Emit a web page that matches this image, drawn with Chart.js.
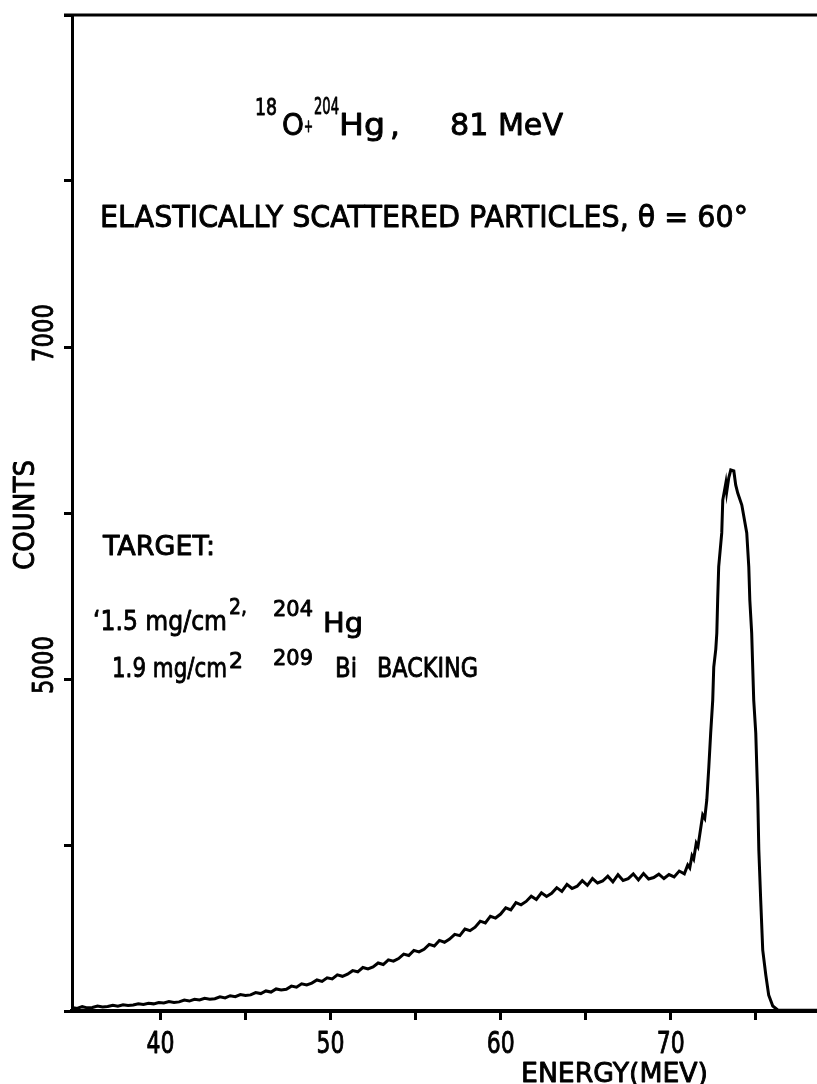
<!DOCTYPE html>
<html>
<head>
<meta charset="utf-8">
<title>18O + 204Hg elastic scattering spectrum</title>
<script src="https://cdn.jsdelivr.net/npm/chart.js@4.4.1/dist/chart.umd.min.js"></script>
<style>
  html, body { margin: 0; padding: 0; background: #fff; }
  #wrap { width: 817px; height: 1084px; }
</style>
</head>
<body>
<div id="wrap"><canvas id="spectrum" width="817" height="1084"></canvas></div>
<script>
// spectrum: energy (MeV) and counts per channel
const energy = [
  34.8, 35.1, 35.4, 35.7, 36.0, 36.3, 36.6, 36.9, 37.2, 37.5, 37.8, 38.1, 38.4, 38.7, 39.0, 39.3,
  39.6, 39.9, 40.2, 40.5, 40.8, 41.1, 41.4, 41.7, 42.0, 42.3, 42.6, 42.9, 43.2, 43.5, 43.8, 44.1,
  44.4, 44.7, 45.0, 45.3, 45.6, 45.9, 46.2, 46.5, 46.8, 47.1, 47.4, 47.7, 48.0, 48.3, 48.6, 48.9,
  49.2, 49.5, 49.8, 50.1, 50.4, 50.7, 51.0, 51.3, 51.6, 51.9, 52.2, 52.5, 52.8, 53.1, 53.4, 53.7,
  54.0, 54.3, 54.6, 54.9, 55.2, 55.5, 55.8, 56.1, 56.4, 56.7, 57.0, 57.3, 57.6, 57.9, 58.2, 58.5,
  58.8, 59.1, 59.4, 59.7, 60.0, 60.3, 60.6, 60.9, 61.2, 61.5, 61.8, 62.1, 62.4, 62.7, 63.0, 63.3,
  63.6, 63.9, 64.2, 64.5, 64.8, 65.1, 65.4, 65.7, 66.0, 66.3, 66.6, 66.9, 67.2, 67.5, 67.8, 68.1,
  68.4, 68.7, 69.0, 69.3, 69.6, 69.9, 70.2, 70.5, 70.8,
  71.0, 71.12, 71.25, 71.35, 71.5, 71.6, 71.71, 71.88, 72.0, 72.12, 72.24, 72.35, 72.47, 72.53,
  72.65, 72.71, 72.76, 72.82, 73.0, 73.06, 73.24, 73.29, 73.41, 73.53, 73.71, 73.82, 73.94, 74.18,
  74.47, 74.59, 74.65, 74.76, 74.82, 74.88, 75.0, 75.06, 75.12, 75.18, 75.29, 75.41, 75.59, 75.76,
  76.0, 76.29, 78.6
];
const counts = [
  3022, 3015, 3026, 3019, 3021, 3030, 3024, 3027, 3035, 3029, 3038, 3033, 3036, 3044, 3039, 3047,
  3043, 3051, 3048, 3057, 3052, 3055, 3066, 3060, 3071, 3066, 3076, 3071, 3074, 3085, 3079, 3092,
  3086, 3099, 3093, 3097, 3111, 3105, 3121, 3114, 3133, 3126, 3131, 3150, 3143, 3164, 3157, 3168,
  3187, 3178, 3200, 3193, 3218, 3209, 3222, 3243, 3236, 3262, 3253, 3265, 3289, 3280, 3308, 3300,
  3316, 3343, 3334, 3365, 3356, 3372, 3401, 3392, 3425, 3414, 3433, 3462, 3454, 3494, 3484, 3505,
  3541, 3530, 3571, 3560, 3584, 3622, 3609, 3653, 3640, 3660, 3692, 3672, 3712, 3690, 3709, 3743,
  3720, 3763, 3738, 3752, 3785, 3757, 3798, 3771, 3783, 3812, 3778, 3821, 3786, 3797, 3826, 3790,
  3828, 3795, 3804, 3824, 3798, 3822, 3808, 3843, 3826,
  3880, 3862, 3935, 3915, 4010, 3990, 4065, 4181, 4160, 4271, 4470, 4675, 4873, 5072,
  5180, 5277, 5476, 5675, 5880, 6078, 6181, 6127, 6211, 6259, 6253, 6169, 6120, 6048,
  5880, 5675, 5476, 5277, 5072, 4873, 4675, 4470, 4271, 3970, 3669, 3367, 3217, 3096,
  3030, 3006, 3005
];

const xTicks = [40, 45, 50, 55, 60, 65, 70, 75];
const xLabels = [40, 50, 60, 70];
const yTicks = [3000, 4000, 5000, 6000, 7000, 8000, 9000];
const yLabels = [7000, 5000];

const FONT = '"DejaVu Sans", sans-serif';

// draw a string squeezed (or stretched) to a given width, with a thin
// outline so the lettering comes out as heavy as pen-drawn text
function fitText(ctx, str, x, y, size, width) {
  ctx.save();
  ctx.font = size + 'px ' + FONT;
  const w = ctx.measureText(str).width;
  ctx.translate(x, y);
  if (width) ctx.scale(width / w, 1);
  ctx.lineWidth = 0.9;
  ctx.lineJoin = 'round';
  ctx.fillText(str, 0, 0);
  ctx.strokeText(str, 0, 0);
  ctx.restore();
}

// annotation pieces: [text, x, baseline, size, width]
const notes = [
  ['18', 255, 115, 23, 22],
  ['O', 282, 135, 31, 22],
  ['+', 304, 132, 18, 9],
  ['204', 314, 114, 23, 25],
  ['Hg', 339, 135, 31, 46],
  [',', 390, 135, 31, 0],
  ['81 MeV', 450, 135, 31, 113],
  ['ELASTICALLY SCATTERED PARTICLES, \u03B8 = 60\u00B0', 100, 227, 30, 648],
  ['TARGET:', 103, 555, 26, 112],
  ['\u20181.5 mg/cm', 93, 630, 27, 134],
  ['2,', 229, 614, 22, 18],
  ['204', 273, 616, 22, 40],
  ['Hg', 323, 632, 27, 40],
  ['1.9 mg/cm', 112, 677, 27, 115],
  ['2', 229, 668, 22, 0],
  ['209', 273, 665, 22, 40],
  ['Bi', 335, 677, 27, 22],
  ['BACKING', 377, 677, 27, 101],
  ['ENERGY(MEV)', 521, 1082, 27, 187]
];

const frame = {
  id: 'frame',
  afterDraw(chart) {
    const ctx = chart.ctx;
    const area = chart.chartArea;
    const xs = chart.scales.x;
    const ys = chart.scales.y;
    ctx.save();
    ctx.fillStyle = '#000';
    ctx.strokeStyle = '#000';

    // top edge of the frame
    ctx.lineWidth = 3;
    ctx.beginPath();
    ctx.moveTo(area.left - 8, area.top);
    ctx.lineTo(area.right, area.top);
    ctx.stroke();

    // energy labels under the axis
    ctx.textBaseline = 'alphabetic';
    xLabels.forEach(v => {
      const px = xs.getPixelForValue(v);
      fitText(ctx, String(v), px - 14, 1053, 30, 28);
    });

    // rotated count labels and axis title
    ctx.textAlign = 'center';
    ctx.textBaseline = 'middle';
    yLabels.forEach(v => {
      const py = ys.getPixelForValue(v) - 14;
      ctx.save();
      ctx.translate(46, py);
      ctx.rotate(-Math.PI / 2);
      fitText(ctx, String(v), 0, 0, 28, 58);
      ctx.restore();
    });
    ctx.save();
    ctx.translate(26, 515);
    ctx.rotate(-Math.PI / 2);
    fitText(ctx, 'COUNTS', 0, 0, 29, 110);
    ctx.restore();

    ctx.textAlign = 'left';
    ctx.textBaseline = 'alphabetic';
    notes.forEach(n => fitText(ctx, n[0], n[1], n[2], n[3], n[4]));
    ctx.restore();
  }
};

new Chart(document.getElementById('spectrum'), {
  type: 'line',
  data: {
    datasets: [{
      data: energy.map((e, i) => ({ x: e, y: counts[i] })),
      borderColor: '#000',
      borderWidth: 3,
      pointRadius: 0,
      tension: 0,
      fill: false
    }]
  },
  options: {
    responsive: false,
    animation: false,
    events: [],
    layout: { padding: { top: 15, right: 0, left: 0, bottom: 0 } },
    plugins: { legend: { display: false }, tooltip: { enabled: false } },
    scales: {
      x: {
        type: 'linear',
        min: 34.8,
        max: 78.6,
        afterFit(scale) { scale.height = 73; },
        afterBuildTicks(scale) { scale.ticks = xTicks.map(v => ({ value: v })); },
        ticks: { display: false },
        grid: {
          drawOnChartArea: false,
          drawTicks: true,
          tickLength: 9,
          tickWidth: 3,
          tickColor: '#000'
        },
        border: { display: true, color: '#000', width: 4 }
      },
      y: {
        min: 3000,
        max: 9000,
        afterFit(scale) { scale.width = 72; },
        afterBuildTicks(scale) { scale.ticks = yTicks.map(v => ({ value: v })); },
        ticks: { display: false },
        grid: {
          drawOnChartArea: false,
          drawTicks: true,
          tickLength: 8,
          tickWidth: 3,
          tickColor: '#000'
        },
        border: { display: true, color: '#000', width: 3 }
      }
    }
  },
  plugins: [frame]
});
</script>
</body>
</html>
